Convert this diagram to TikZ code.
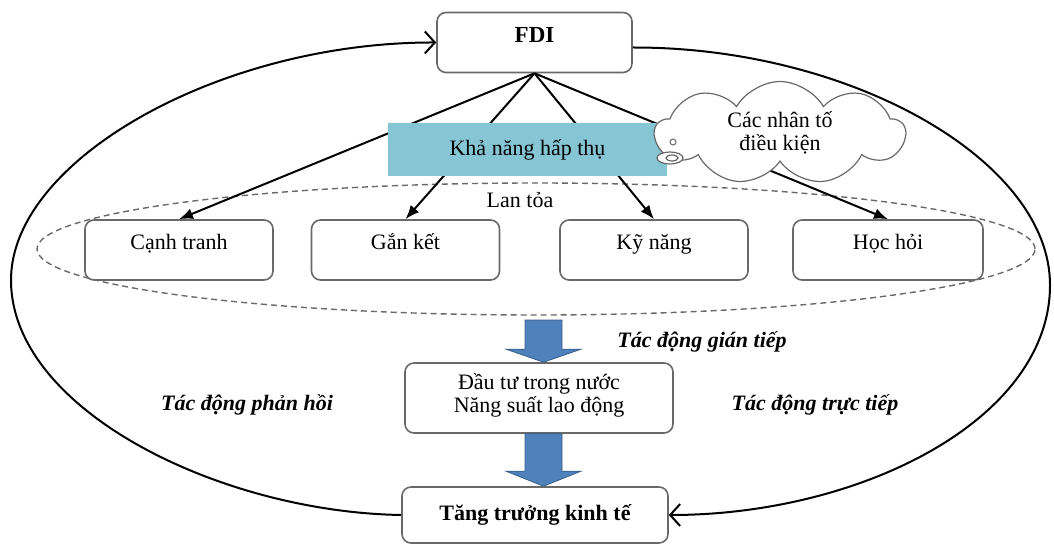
\documentclass[tikz,border=0pt]{standalone}
\usepackage{fontspec}
\setmainfont{Liberation Serif}
\usetikzlibrary{arrows.meta,shapes.geometric,shapes.symbols,calc}
\definecolor{boxgray}{RGB}{105,105,105}
\definecolor{absorbfill}{RGB}{134,197,212}
\definecolor{arrowfill}{RGB}{79,129,189}
\definecolor{arrowdraw}{RGB}{56,93,138}
\tikzset{
  txt/.style={font=\fontsize{22}{23}\selectfont},
  rbox/.style={txt, draw=boxgray, line width=1.6pt, rounded corners=9pt, fill=white, inner sep=0pt},
  smallbox/.style={rbox, minimum width=188pt, minimum height=60pt, text height=15pt, text depth=15pt},
  conn/.style={line width=2pt, -{Latex[length=14pt,width=11pt]}},
  outer/.style={line width=2pt, -{Straight Barb[length=10pt,width=22pt,line width=2pt]}},
  lbl/.style={font=\fontsize{22}{23}\selectfont\bfseries\itshape, inner sep=0pt},
  bluearrow/.style={fill=arrowfill, draw=arrowdraw, line width=0.8pt, line join=miter}
}
\begin{document}
\begin{tikzpicture}[x=1pt,y=-1pt]
\useasboundingbox (0,0) rectangle (1054,545);

% dashed spread ellipse
\node[draw=boxgray, dashed, dash pattern=on 6pt off 4pt, line width=1.4pt, ellipse, minimum width=998pt, minimum height=132pt, inner sep=0pt] (spread) at (536,249) {};
\node[txt, inner sep=0pt] (lantoa) at (520,200) {Lan tỏa};

% boxes
\node[rbox, minimum width=195pt, minimum height=60pt, text height=15pt, text depth=15pt, font=\fontsize{23}{24}\selectfont\bfseries] (fdi) at (534.5,42.5) {FDI};
\node[smallbox] (canh) at (179,250) {Cạnh tranh};
\node[smallbox] (gan) at (405.5,250) {Gắn kết};
\node[smallbox] (kyn) at (654,250) {Kỹ năng};
\node[smallbox, minimum width=190pt] (hoc) at (888,250) {Học hỏi};
\node[rbox, minimum width=268pt, minimum height=70pt, align=center, text height=38pt, text depth=9pt] (dau) at (539,398) {Đầu tư trong nước\\Năng suất lao động};
\node[rbox, minimum width=266pt, minimum height=56pt, text height=16pt, text depth=5pt, font=\fontsize{22}{23}\selectfont\bfseries] (tang) at (535,515) {Tăng trưởng kinh tế};

% connectors from FDI
\draw[conn] (fdi.south) -- (canh.north);
\draw[conn] (fdi.south) -- (gan.north);
\draw[conn] (fdi.south) -- (kyn.north);
\draw[conn] (fdi.south) -- (hoc.north);

% absorption box
\node[txt, fill=absorbfill, minimum width=279pt, minimum height=53pt, inner sep=0pt] (absorb) at (527.5,149.5) {Khả năng hấp thụ};

% cloud
\node[txt, cloud, draw=boxgray, line width=1.2pt, fill=white, cloud puffs=9, cloud puff arc=120, aspect=2.4, minimum width=250pt, minimum height=103pt, inner sep=0pt, align=center] (cloud) at (780,133) {Các nhân tố\\điều kiện};
\draw[boxgray, line width=1.2pt, fill=white] (670,158) ellipse [x radius=13pt, y radius=6pt];
\draw[boxgray, line width=1.2pt] (672,158) ellipse [x radius=6pt, y radius=3pt];
\draw[boxgray, line width=1pt] (673,142) circle [radius=3pt];

% outer feedback loop
\draw[outer] (tang.west) .. controls (220,512) and (11,410) .. (11,280)
  .. controls (11,160) and (220,42) .. (fdi.west);
\draw[outer] ([yshift=-5pt]fdi.east) .. controls (850,47) and (1050,160) .. (1050,285)
  .. controls (1050,420) and (860,515) .. (tang.east);

% blue block arrows
\coordinate (a1top) at (543.5,320);
\coordinate (a1tip) at ($(dau.north)+(4.5,0)$);
\coordinate (a2top) at ($(dau.south)+(4.5,0)$);
\coordinate (a2tip) at ($(tang.north)+(8.5,0)$);
\draw[bluearrow] let \p1=(a1top), \p2=(a1tip) in
  (\x1-18.5pt,\y1) -- (\x1-18.5pt,\y2+13pt) -- (\x1-37.5pt,\y2+13pt) -- (\x1,\y2)
  -- (\x1+37.5pt,\y2+13pt) -- (\x1+18.5pt,\y2+13pt) -- (\x1+18.5pt,\y1) -- cycle;
\draw[bluearrow] let \p1=(a2top), \p2=(a2tip) in
  (\x1-18.5pt,\y1) -- (\x1-18.5pt,\y2+15pt) -- (\x1-37.5pt,\y2+15pt) -- (\x1,\y2)
  -- (\x1+37.5pt,\y2+15pt) -- (\x1+18.5pt,\y2+15pt) -- (\x1+18.5pt,\y1) -- cycle;

% labels
\node[lbl] (gian) at (702,342) {Tác động gián tiếp};
\node[lbl] (phanhoi) at (247,405) {Tác động phản hồi};
\node[lbl] (tructiep) at (815,405) {Tác động trực tiếp};
\end{tikzpicture}
\end{document}
